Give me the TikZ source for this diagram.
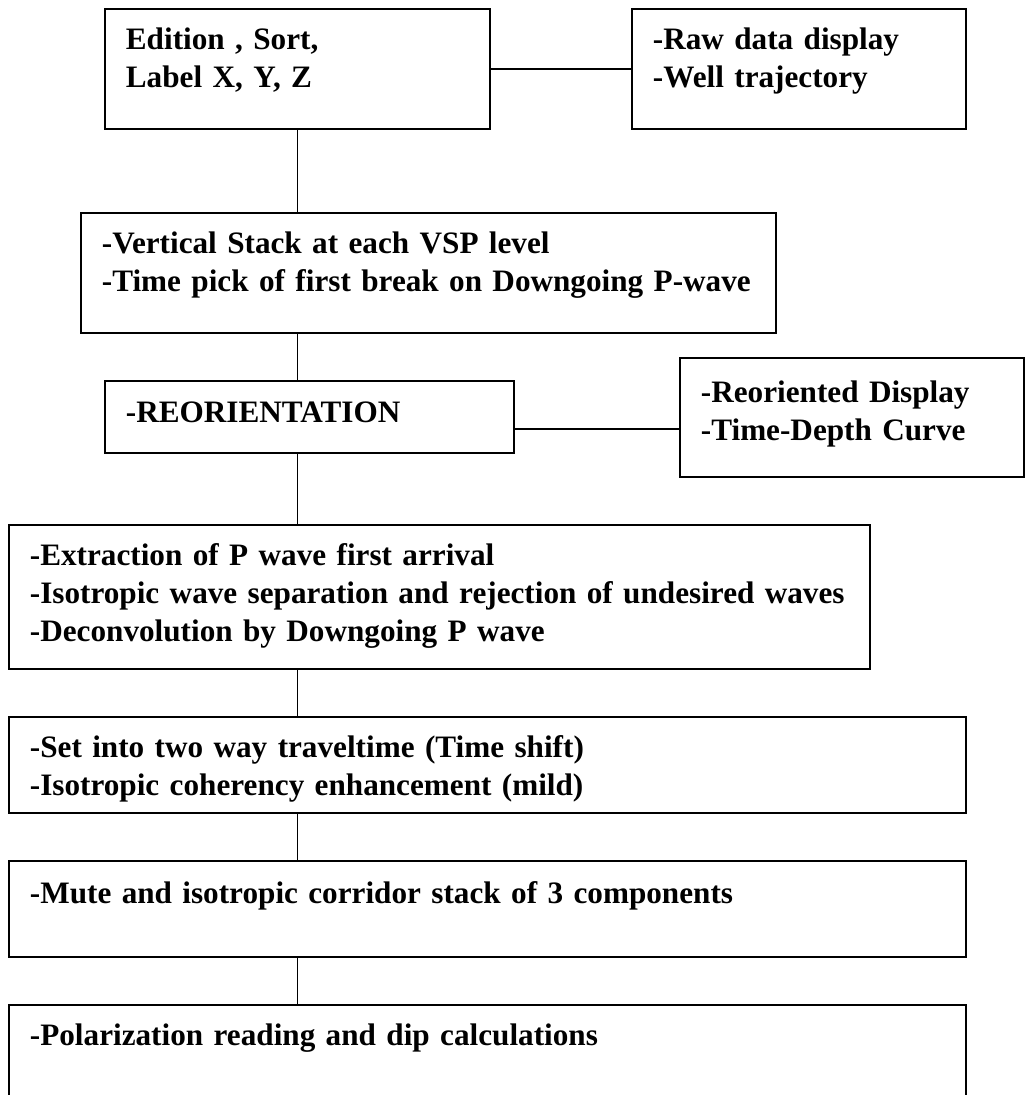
\documentclass[tikz,border=0pt]{standalone}
\usepackage{fontspec}
\setmainfont{Liberation Serif}
\usetikzlibrary{positioning,calc}
\tikzset{
  stepbox/.style={draw, rectangle, anchor=north west, align=left, inner xsep=15.75pt, inner ysep=0pt,
    text height=30.75pt, font=\fontsize{23.4}{28.5}\selectfont\bfseries},
  link/.style={line width=1.4pt}
}
\begin{document}
\begin{tikzpicture}[x=0.75pt, y=-0.75pt, line width=1.4pt]
  \useasboundingbox (0,0) rectangle (1027,1095);
  \node[stepbox, text width=257.25pt, text depth=59.25pt] (edit) at (104,8) {Edition , Sort,\\Label X, Y, Z};
  \node[stepbox, text width=219pt, text depth=59.25pt] (rawdisp) at (631,8) {-Raw data display\\-Well trajectory};
  \node[stepbox, text width=489.75pt, text depth=59.25pt] (vstack) at (80,212) {-Vertical Stack at each VSP level\\-Time pick of first break on Downgoing P-wave};
  \node[stepbox, text width=275.25pt, text height=31.5pt, text depth=22.5pt] (reorient) at (104,380) {-REORIENTATION};
  \node[stepbox, text width=226.5pt, text height=33.75pt, text depth=55.5pt] (redisp) at (679,357) {-Reoriented Display\\-Time-Depth Curve};
  \node[stepbox, text width=614.25pt, text depth=77.25pt] (extract) at (8,524) {-Extraction of P wave first arrival\\-Isotropic wave separation and rejection of undesired waves\\-Deconvolution by Downgoing P wave};
  \node[stepbox, text width=686.25pt, text depth=41.25pt] (shift) at (8,716) {-Set into two way traveltime (Time shift)\\-Isotropic coherency enhancement (mild)};
  \node[stepbox, text width=686.25pt, text height=32.25pt, text depth=39.75pt] (mute) at (8,860) {-Mute and isotropic corridor stack of 3 components};
  \node[stepbox, text width=686.25pt, text depth=60pt] (polar) at (8,1004) {-Polarization reading and dip calculations};
  \draw[link] (edit.east) -- (rawdisp.west);
  \draw[link] (edit.south) -- (edit.south |- vstack.north);
  \draw[link] (vstack.south -| edit.south) -- (reorient.north -| edit.south);
  \draw[link] ([yshift=-9pt]reorient.east) -- ([yshift=-9pt]reorient.east -| redisp.west);
  \draw[link] (reorient.south -| edit.south) -- (extract.north -| edit.south);
  \draw[link] (extract.south -| edit.south) -- (shift.north -| edit.south);
  \draw[link] (shift.south -| edit.south) -- (mute.north -| edit.south);
  \draw[link] (mute.south -| edit.south) -- (polar.north -| edit.south);
\end{tikzpicture}
\end{document}
